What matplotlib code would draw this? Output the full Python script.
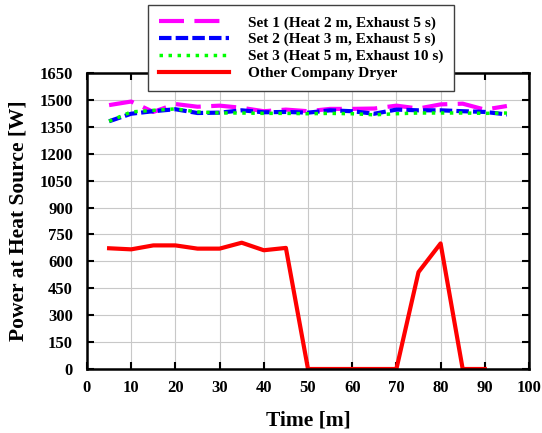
import numpy as np
import matplotlib
matplotlib.use('Agg')
import matplotlib.pyplot as plt

time_set = [5, 10, 15, 20, 25, 30, 35, 40, 45, 50, 55, 60, 65, 70, 75, 80, 85, 90, 95]
set1 = [1471, 1491, 1433, 1477, 1462, 1468, 1456, 1437, 1446, 1437, 1450, 1450, 1452, 1468, 1452, 1475, 1479, 1446, 1466]
set2 = [1381, 1423, 1437, 1448, 1427, 1429, 1442, 1431, 1433, 1429, 1442, 1437, 1423, 1446, 1442, 1442, 1437, 1433, 1419]
set3 = [1381, 1433, 1442, 1450, 1433, 1427, 1427, 1425, 1425, 1423, 1425, 1423, 1417, 1423, 1427, 1427, 1427, 1425, 1427]

time_other = [5, 10, 15, 20, 25, 30, 35, 40, 45, 50, 55, 60, 65, 70, 75, 80, 85, 90]
other = [673, 667, 689, 689, 671, 671, 704, 662, 675, 0, 0, 0, 0, 0, 540, 700, 0, 0]

labels = ['Set 1 (Heat 2 m, Exhaust 5 s)', 'Set 2 (Heat 3 m, Exhaust 5 s)',
          'Set 3 (Heat 5 m, Exhaust 10 s)', 'Other Company Dryer']

plt.rcParams['font.family'] = ['Liberation Serif', 'DejaVu Serif']
plt.rcParams['font.weight'] = 'bold'

fig = plt.figure(figsize=(5.42, 4.33), dpi=100)
ax = fig.add_axes([0.1605, 0.1478, 0.8155, 0.6836])

ax.plot(time_set, set1, color='#ff00ff', lw=3, dashes=(6, 2.5), label=labels[0])
ax.plot(time_set, set2, color='#0000ff', lw=3, dashes=(3, 1), label=labels[1])
ax.plot(time_set, set3, color='#00ff00', lw=2.5, dashes=(1, 1.6), label=labels[2])
ax.plot(time_other, other, color='#ff0000', lw=3, label=labels[3])

ax.set_xlim(0, 100)
ax.set_ylim(0, 1650)
ax.set_xticks(np.arange(0, 101, 10))
ax.set_yticks(np.arange(0, 1651, 150))
ax.grid(True, color='#c8c8c8', lw=0.8)
ax.set_axisbelow(True)
ax.tick_params(direction='in', top=True, right=True, length=5, width=1.5, labelsize=12)
ax.tick_params(axis='y', pad=10)
ax.tick_params(axis='x', pad=8)
for lab in ax.get_xticklabels() + ax.get_yticklabels():
    lab.set_fontweight('bold')
for sp in ax.spines.values():
    sp.set_linewidth(1.8)

ax.set_xlabel('Time [m]', fontsize=15.5, fontweight='bold')
ax.set_ylabel('Power at Heat Source [W]', fontsize=15.5, fontweight='bold')
ax.xaxis.set_label_coords(0.5, -0.139)
ax.yaxis.set_label_coords(-0.133, 0.5)

leg = fig.legend(loc='upper left', bbox_to_anchor=(148 / 542, 1 - 5 / 433), fontsize=11,
                 handlelength=4.6, fancybox=False, framealpha=1, edgecolor='#404040',
                 borderpad=0.7, labelspacing=0.2, handletextpad=1.25, borderaxespad=0)
leg.get_frame().set_linewidth(1.0)
for t in leg.get_texts():
    t.set_fontweight('bold')

fig.savefig('out.png', dpi=100)
